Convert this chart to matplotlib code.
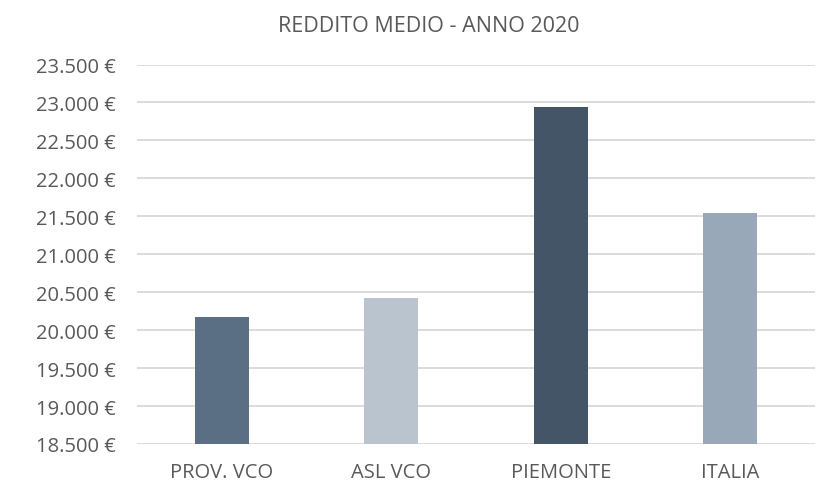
import matplotlib.pyplot as plt
from matplotlib.ticker import FuncFormatter

plt.rcParams['font.family'] = ['Open Sans', 'DejaVu Sans']

# dati
categorie = ['PROV. VCO', 'ASL VCO', 'PIEMONTE', 'ITALIA']
reddito = [20171, 20422, 22943, 21549]
colori = ['#5A6E84', '#BAC4CE', '#435566', '#99A8B8']

fig = plt.figure(figsize=(8.2, 4.89), dpi=100)
ax = fig.add_axes([0.167, 0.09, 0.827, 0.776])

x = range(len(categorie))
ax.bar(x, reddito, width=0.32, color=colori, zorder=3)

ax.set_ylim(18500, 23500)
ax.set_xlim(-0.5, len(categorie) - 0.5)
ax.set_yticks(range(18500, 23501, 500))
ax.yaxis.set_major_formatter(FuncFormatter(lambda v, p: f'{int(v):,} €'.replace(',', '.')))
ax.set_xticks(list(x))
ax.set_xticklabels(categorie)

ax.grid(axis='y', color='#D9D9D9', linewidth=1.3, zorder=0)
for s in ax.spines.values():
    s.set_visible(False)
ax.tick_params(axis='both', length=0, labelsize=14.5, colors='#595959')
ax.tick_params(axis='y', pad=15)
ax.tick_params(axis='x', pad=13)

# titolo centrato sul grafico intero, non sull'area del plot
ax.set_title('REDDITO MEDIO - ANNO 2020', fontsize=15.5, color='#595959', pad=24, x=0.43)

plt.savefig('out.png')
